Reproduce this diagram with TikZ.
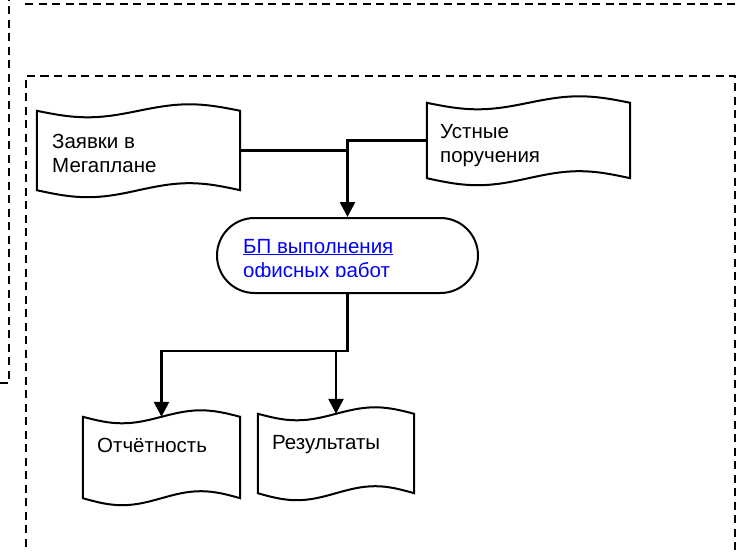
\documentclass[tikz,border=0pt]{standalone}
\usepackage{fontspec}
\setmainfont{Liberation Sans}
\usetikzlibrary{arrows.meta,calc,shapes.misc}
\definecolor{linkblue}{RGB}{0,0,255}
\tikzset{
  frame/.style={line width=2pt,dash pattern=on 8pt off 5.5pt},
  tapeline/.style={line width=2pt},
  tapebox/.style={rectangle,draw=none,inner sep=0pt},
  conn/.style={line width=2.6pt},
  arr/.style={conn,-{Triangle[width=15pt,length=15pt]}},
  txt/.style={anchor=base west,inner sep=0pt,align=left,font=\fontsize{20.5}{24}\selectfont},
}
\newcommand\tapeborder[1]{%
  \draw[tapeline] let \p1=(#1.north west), \p2=(#1.south east), \n1={(\x2-\x1)/4} in
   (#1.north west) sin ++(\n1,6.5) cos ++(\n1,-6.5) sin ++(\n1,-6.5) cos ++(\n1,6.5)
   -- (#1.south east) sin ++(-\n1,-7) cos ++(-\n1,7) sin ++(-\n1,7) cos ++(-\n1,-7) -- cycle;}
\begin{document}
\begin{tikzpicture}[x=1pt,y=-1pt]
\useasboundingbox (0,0) rectangle (740,552);
% frames
\draw[frame] (0,383) -- (9,383) -- (9,-2);
\draw[frame] (25,3.5) -- (745,3.5);
\draw[frame] (25.5,560) -- (25.5,75.5) -- (735,75.5) -- (735,560);
% boxes
\node[tapebox,minimum width=203pt,minimum height=79pt] (zay) at (138.5,150.5) {};
\node[tapebox,minimum width=203pt,minimum height=75pt] (ust) at (528.5,140.5) {};
\node[tapebox,minimum width=157pt,minimum height=81pt] (otc) at (161.5,457.5) {};
\node[tapebox,minimum width=156pt,minimum height=79pt] (res) at (336,453.5) {};
\tapeborder{zay}
\tapeborder{ust}
\tapeborder{otc}
\tapeborder{res}
\node[rounded rectangle,draw,line width=2pt,minimum width=261pt,minimum height=75pt,inner sep=0pt] (bp) at (347.5,255.5) {};
% texts
\node[txt] (zayt) at (52,172) {Заявки в\\Мегаплане};
\node[txt] (ustt) at (440,162) {Устные\\поручения};
\node[txt] (otct) at (97,452) {Отчётность};
\node[txt] (rest) at (272,449) {Результаты};
\begin{scope}
\clip (225,225) rectangle (470,276);
\node[txt,text=linkblue] (bpt) at (243,277) {\underline{БП выполнения}\\офисных работ};
\end{scope}
% connectors
\draw[arr] (ust.west) -| (bp.north);
\draw[conn] (zay.east) -- (zay.east -| bp.north);
\coordinate (j) at ($(bp.south)+(0,57)$);
\draw[arr] (bp.south) -- (j) -| (otc.north);
\draw[arr] (res.north |- j) -- (res.north);
\end{tikzpicture}
\end{document}
